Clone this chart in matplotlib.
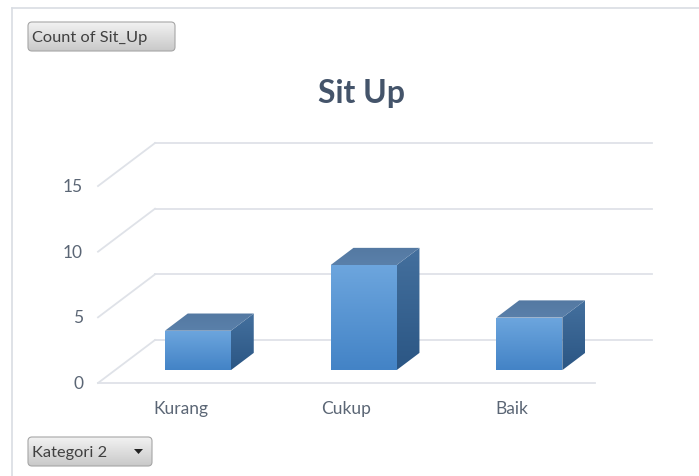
import numpy as np
import matplotlib
matplotlib.use("Agg")
import matplotlib.pyplot as plt
from matplotlib.patches import Polygon, FancyBboxPatch
from matplotlib.colors import LinearSegmentedColormap

plt.rcParams['font.family'] = ['Lato', 'DejaVu Sans']

# ---- data ----
categories = ["Kurang", "Cukup", "Baik"]
counts = [3, 8, 4]
yticks = [0, 5, 10, 15]
title = "Sit Up"
field_button = "Count of Sit_Up"
axis_button = "Kategori 2"

W, H = 699, 477
fig = plt.figure(figsize=(W / 100, H / 100), dpi=100)
fig.patch.set_facecolor("white")

# geometry (pixels -> data scale)
PXC = 165.7   # px per category
PYV = 13.13   # px per value unit
X0PIX, Y0PIX = 98.0, 384.0
DX = 57.0 / PXC     # floor depth in category units
DY = 43.0 / PYV     # floor depth in value units
BAR_W = 66.0 / PXC
F0, F1 = 0.3, 0.7   # bar depth span (fraction of floor depth)

ax = fig.add_axes([0, 0, 1, 1])
ax.axis("off")
xlim = (-0.5 - X0PIX / PXC, -0.5 + (W - X0PIX) / PXC)
ylim = (-(H - Y0PIX) / PYV, Y0PIX / PYV)

grid_c = "#DFE2E8"
ncat = len(categories)
xl, xr = -0.5, ncat - 0.5
# back wall gridlines + left diagonals
for v in yticks:
    ax.plot([xl + DX, xr + DX], [v + DY, v + DY], color=grid_c, lw=1.3, zorder=1)
    ax.plot([xl, xl + DX], [v, v + DY], color=grid_c, lw=1.3, zorder=1)
# front floor edge
ax.plot([xl, xr], [0, 0], color=grid_c, lw=1.3, zorder=1)

# tick labels
for v in yticks:
    ax.text(-0.5 - 15 / PXC, v, str(v), ha="right", va="center",
            fontsize=12.5, color="#5B6675", zorder=3)
# category labels
for i, c in enumerate(categories):
    ax.text(i, -25 / PYV, c, ha="center", va="center", fontsize=12.5,
            color="#5B6675", zorder=3)

front_cm = LinearSegmentedColormap.from_list("f", ["#4383C6", "#6DA6DE"])
side_cm = LinearSegmentedColormap.from_list("s", ["#2B5684", "#44709E"])
top_cm = LinearSegmentedColormap.from_list("t", ["#5A80AA", "#5479A2"])
grad = np.linspace(0, 1, 256).reshape(-1, 1)


def grad_poly(pts, cmap, z):
    poly = Polygon(pts, closed=True, facecolor="none", edgecolor="none", zorder=z)
    ax.add_patch(poly)
    xs = [p[0] for p in pts]
    ys = [p[1] for p in pts]
    im = ax.imshow(grad, extent=[min(xs), max(xs), min(ys), max(ys)],
                   origin="lower", aspect="auto", cmap=cmap, zorder=z,
                   interpolation="bilinear")
    im.set_clip_path(poly)


for i, v in enumerate(counts):
    bx0 = i - BAR_W / 2 + F0 * DX
    bx1 = bx0 + BAR_W
    by0 = F0 * DY
    by1 = by0 + v
    ddx = (F1 - F0) * DX
    ddy = (F1 - F0) * DY
    front = [(bx0, by0), (bx1, by0), (bx1, by1), (bx0, by1)]
    side = [(bx1, by0), (bx1 + ddx, by0 + ddy), (bx1 + ddx, by1 + ddy), (bx1, by1)]
    top = [(bx0, by1), (bx1, by1), (bx1 + ddx, by1 + ddy), (bx0 + ddx, by1 + ddy)]
    grad_poly(front, front_cm, 4)
    grad_poly(side, side_cm, 4)
    grad_poly(top, top_cm, 4)

ax.set_xlim(*xlim)
ax.set_ylim(*ylim)

# ---- overlay in pixel coordinates ----
ov = fig.add_axes([0, 0, 1, 1])
ov.patch.set_alpha(0)
ov.axis("off")
ov.set_xlim(0, W)
ov.set_ylim(H, 0)

border_c = "#D9DDE3"
ov.plot([12, 12], [9, H], color=border_c, lw=1.2)
ov.plot([12, W], [9, 9], color=border_c, lw=1.2)

ov.text(362, 93, title, ha="center", va="center", fontsize=23,
        fontweight="bold", color="#44546A")

btn_cm = LinearSegmentedColormap.from_list("b", ["#F2F2F2", "#C9C9C9"])
bgrad = np.linspace(0, 1, 64).reshape(-1, 1)


def button(x0, y0, x1, y1, label):
    box = FancyBboxPatch((x0, y0), x1 - x0, y1 - y0,
                         boxstyle="round,pad=0,rounding_size=4",
                         facecolor="none", edgecolor="#A6A6A6", lw=0.8, zorder=6)
    ov.add_patch(box)
    im = ov.imshow(bgrad, extent=[x0, x1, y1, y0], origin="upper", aspect="auto",
                   cmap=btn_cm, zorder=5)
    im.set_clip_path(box)
    ov.text(x0 + 4, (y0 + y1) / 2 + 0.5, label, ha="left", va="center",
            fontsize=11.8, color="#404040", zorder=7)


button(28, 23, 175, 52, field_button)
button(28, 438, 152, 467, axis_button)
ov.add_patch(Polygon([(134, 450), (143, 450), (138.5, 455)], closed=True,
                     facecolor="#222222", edgecolor="none", zorder=7))
ov.set_xlim(0, W)
ov.set_ylim(H, 0)

fig.savefig("out.png", dpi=100, facecolor="white")
